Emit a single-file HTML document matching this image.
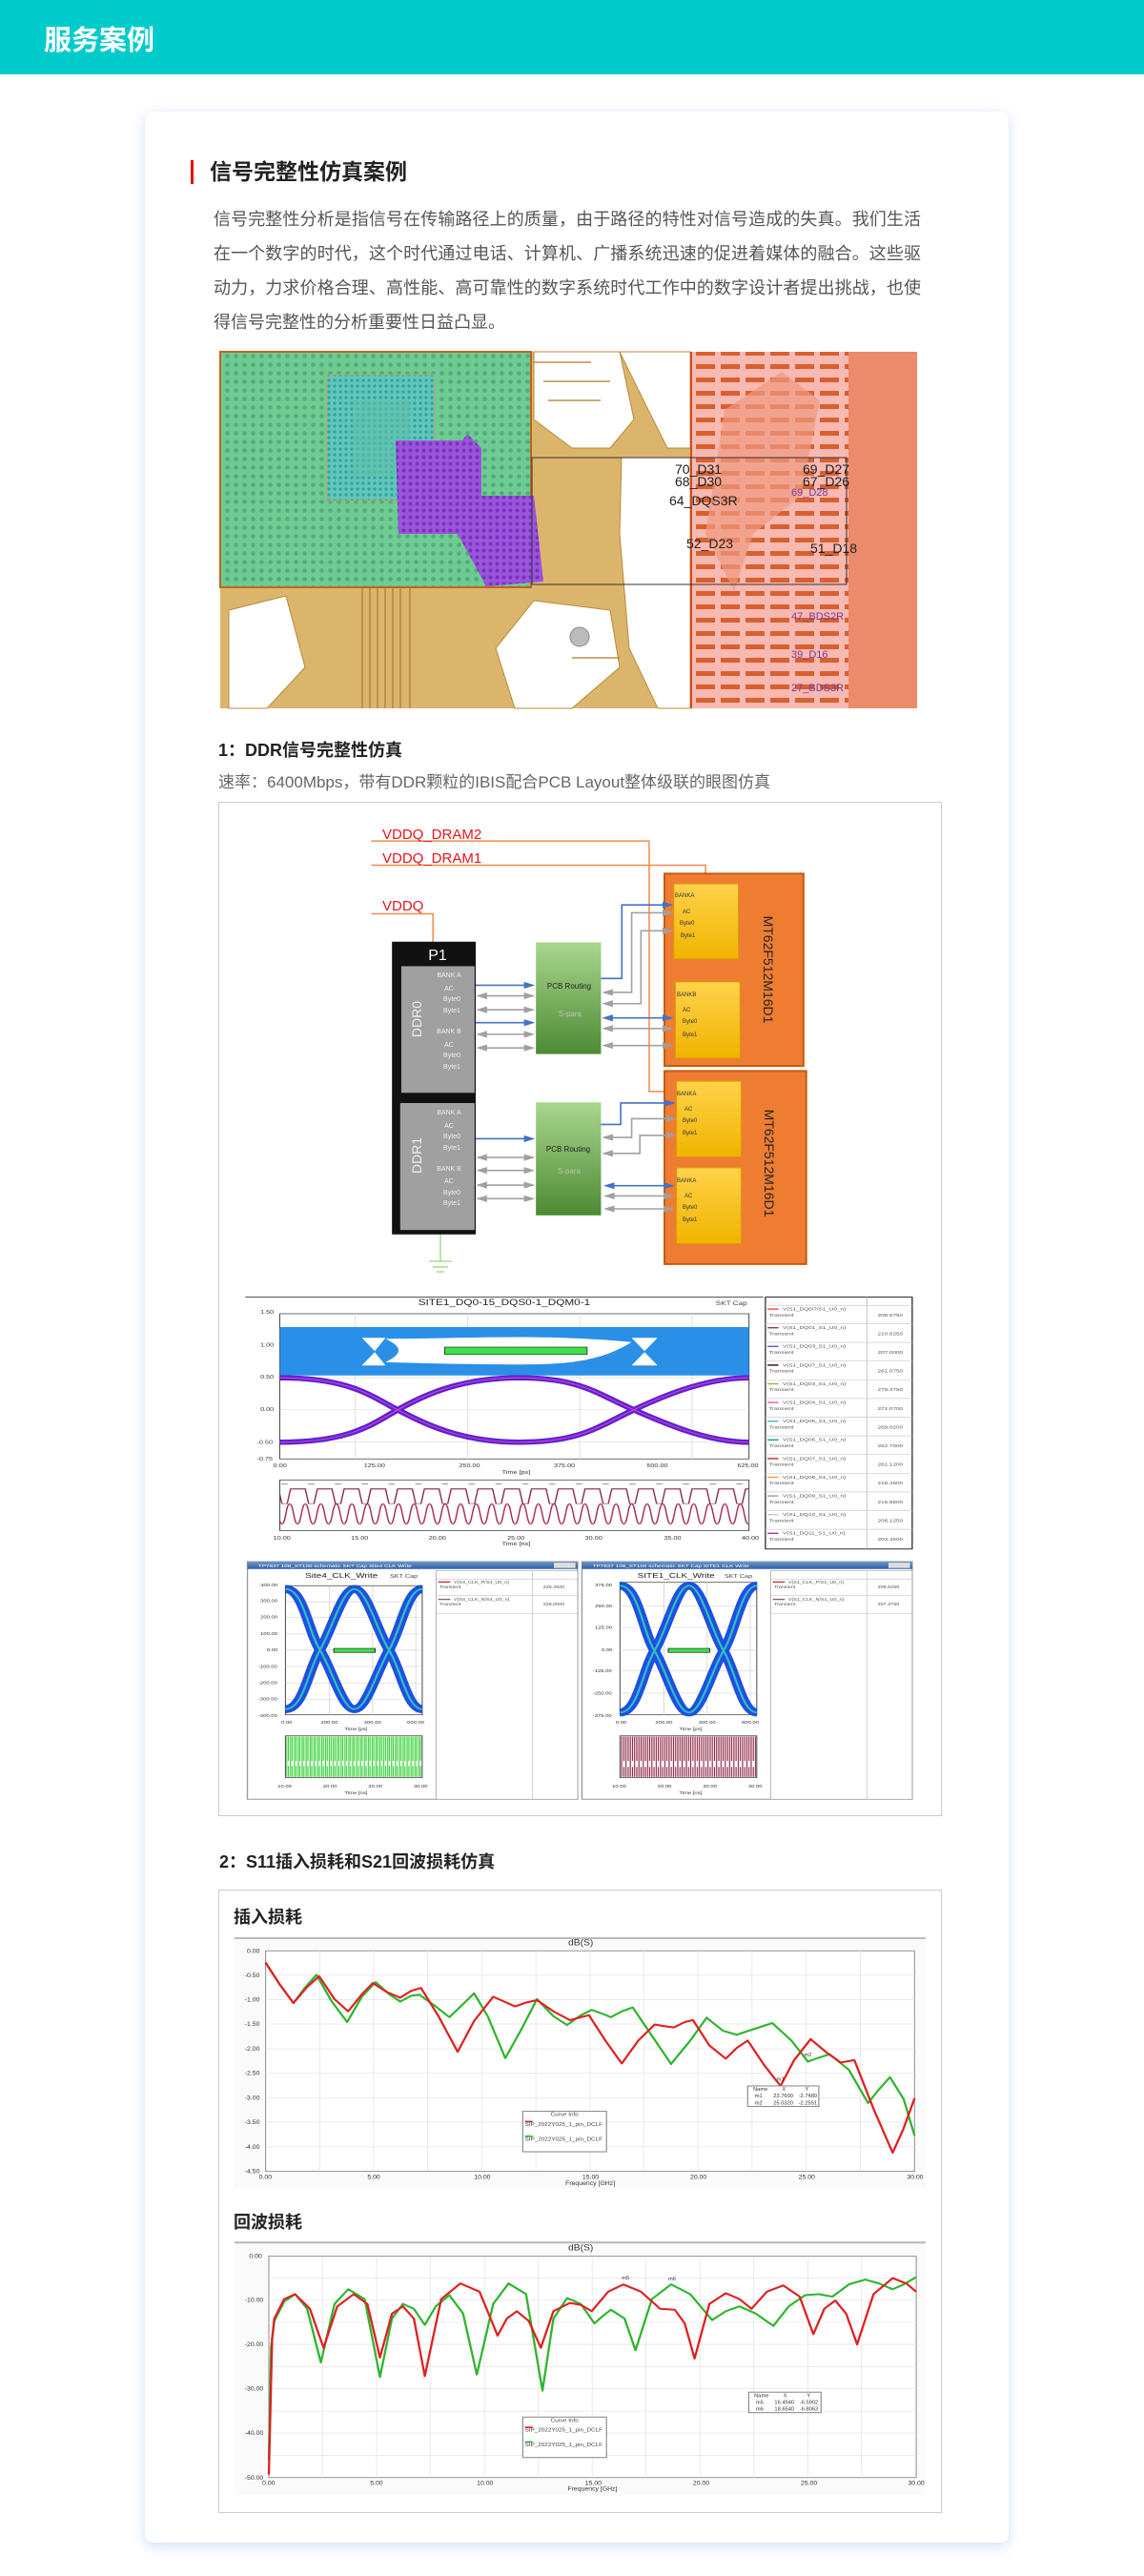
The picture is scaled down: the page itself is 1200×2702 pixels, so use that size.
<!DOCTYPE html>
<html><head><meta charset="utf-8">
<style>
*{margin:0;padding:0;box-sizing:border-box}
html,body{width:1200px;height:2702px;background:#fff;overflow:hidden}
body{position:relative;font-family:"Liberation Sans","Noto Sans CJK SC",sans-serif}
.hdr{position:absolute;left:0;top:0;width:1200px;height:78px;background:#00cbcb}
.hdr span{position:absolute;left:46px;top:19px;font-size:29px;font-weight:bold;color:#fff;letter-spacing:0}
.card{position:absolute;left:152px;top:117px;width:906px;height:2550px;background:#fff;border-radius:8px;box-shadow:0 4px 14px rgba(150,185,240,.45)}
.t{position:absolute;white-space:nowrap;color:#222;z-index:3}
#svg{position:absolute;left:0;top:0;z-index:1}
</style></head><body>
<div class="hdr"><span>服务案例</span></div>
<div class="card"></div>
<div style="position:absolute;left:200px;top:168px;width:3px;height:25px;background:#e60012;z-index:3"></div>
<div class="t" style="left:220px;top:166px;font-size:23px;font-weight:bold;line-height:28px">信号完整性仿真案例</div>
<div style="position:absolute;z-index:3;left:224px;top:212px;width:742px;font-size:18px;line-height:36px;color:#555;letter-spacing:0;text-align:justify">信号完整性分析是指信号在传输路径上的质量，由于路径的特性对信号造成的失真。我们生活在一个数字的时代，这个时代通过电话、计算机、广播系统迅速的促进着媒体的融合。这些驱动力，力求价格合理、高性能、高可靠性的数字系统时代工作中的数字设计者提出挑战，也使得信号完整性的分析重要性日益凸显。</div>
<div class="t" style="left:229px;top:776px;font-size:18px;font-weight:bold;line-height:22px">1：DDR信号完整性仿真</div>
<div class="t" style="left:229px;top:810px;font-size:17px;color:#666;line-height:22px">速率：6400Mbps，带有DDR颗粒的IBIS配合PCB Layout整体级联的眼图仿真</div>
<div class="t" style="left:230px;top:1942px;font-size:18px;font-weight:bold;line-height:22px">2：S11插入损耗和S21回波损耗仿真</div>
<div class="t" style="left:245px;top:2000px;font-size:18px;font-weight:bold;line-height:22px">插入损耗</div>
<div class="t" style="left:245px;top:2320px;font-size:18px;font-weight:bold;line-height:22px">回波损耗</div>

<svg id="svg" width="1200" height="2702" viewBox="0 0 1200 2702" xmlns="http://www.w3.org/2000/svg" font-family="Liberation Sans, sans-serif">
<defs>
<pattern id="dots" width="9" height="9" patternUnits="userSpaceOnUse"><rect width="9" height="9" fill="#6fcb92"/><circle cx="4.5" cy="4.5" r="2.3" fill="#4fae7a"/></pattern>
<pattern id="cdots" width="6" height="6" patternUnits="userSpaceOnUse"><rect width="6" height="6" fill="#62c6b8"/><circle cx="3" cy="3" r="1.6" fill="#2fa0a8"/></pattern>
<pattern id="pdots" width="7" height="7" patternUnits="userSpaceOnUse"><rect width="7" height="7" fill="#9b55d8"/><circle cx="3.5" cy="3.5" r="2" fill="#7a2fc8"/></pattern>
<pattern id="pads" width="26" height="14" patternUnits="userSpaceOnUse"><rect width="26" height="14" fill="#f7b9b2"/><rect x="2" y="4" width="20" height="5" fill="#d9602e"/></pattern>
<linearGradient id="gg" x1="0" y1="0" x2="0" y2="1"><stop offset="0" stop-color="#a9d78e"/><stop offset="1" stop-color="#4d8a34"/></linearGradient>
<linearGradient id="yg" x1="0" y1="0" x2="0" y2="1"><stop offset="0" stop-color="#ffd24a"/><stop offset="1" stop-color="#f0b400"/></linearGradient>
<linearGradient id="tb" x1="0" y1="0" x2="0" y2="1"><stop offset="0" stop-color="#6a98d0"/><stop offset="1" stop-color="#2e5f9e"/></linearGradient>
<pattern id="sinr" width="36" height="80" patternUnits="userSpaceOnUse"><path d="M0,10 C9,10 9,70 18,70 C27,70 27,10 36,10" fill="none" stroke="#a02050" stroke-width="3"/></pattern>
<pattern id="sqr" width="62" height="60" patternUnits="userSpaceOnUse"><path d="M0,5 L20,5 L28,50 L40,50 L48,5 L62,5" fill="none" stroke="#802040" stroke-width="3"/></pattern>
<pattern id="gvl" width="9" height="130" patternUnits="userSpaceOnUse"><path d="M2,0 V130 M6,5 V120" stroke="#2fd02f" stroke-width="2.5"/></pattern>
<pattern id="rvl" width="10" height="130" patternUnits="userSpaceOnUse"><path d="M2,0 V130 M7,8 V120" stroke="#8a2040" stroke-width="2.5"/></pattern>
<marker id="ab" markerWidth="6" markerHeight="6" refX="5" refY="3" orient="auto"><path d="M0,0 L6,3 L0,6z" fill="#4472c4"/></marker>
<marker id="ag" markerWidth="6" markerHeight="6" refX="5" refY="3" orient="auto"><path d="M0,0 L6,3 L0,6z" fill="#a0a0a0"/></marker>
<marker id="abs" markerWidth="6" markerHeight="6" refX="1" refY="3" orient="auto"><path d="M6,0 L0,3 L6,6z" fill="#4472c4"/></marker>
<marker id="ags" markerWidth="6" markerHeight="6" refX="1" refY="3" orient="auto"><path d="M6,0 L0,3 L6,6z" fill="#a0a0a0"/></marker>
</defs>

<!-- PCB image -->
<g>
<rect x="231" y="369" width="731" height="374" fill="#dbb56c"/>
<rect x="231" y="369" width="326" height="247" fill="url(#dots)" stroke="#c0641e" stroke-width="2"/>
<rect x="343" y="393" width="113" height="132" fill="url(#cdots)" stroke="#c8a060" stroke-width="1"/>
<rect x="370" y="420" width="60" height="80" fill="#5fbfa8" opacity=".6"/>
<path d="M415,462 L485,462 L490,455 L505,470 L505,520 L560,520 L570,610 L510,615 L480,560 L418,560z" fill="url(#pdots)"/>
<g fill="#fff" stroke="#b98a3a" stroke-width="1">
<path d="M560,369 L650,369 L665,440 L640,470 L600,470 L560,440z"/>
<path d="M650,369 L724,369 L724,470 L700,470 L680,430z"/>
<path d="M652,480 L724,480 L724,743 L690,743 L660,680 L650,560z"/>
<path d="M560,630 L640,640 L650,700 L600,743 L540,743 L520,680z"/>
<path d="M240,640 L300,625 L320,700 L280,743 L240,743z"/>
</g>
<g stroke="#b07a2a" stroke-width="1.2" fill="none">
<path d="M380,616 V743 M388,616 V743 M396,616 V743 M404,616 V743 M412,616 V743 M420,616 V743 M430,616 V743"/>
<path d="M560,380 H620 M570,400 H640 M575,420 H630 M600,690 H650"/>
</g>
<circle cx="608" cy="668" r="10" fill="#bbb" stroke="#888"/>
<rect x="724" y="369" width="166" height="374" fill="url(#pads)"/>
<path d="M760,430 L820,390 L860,420 L840,520 L790,560 L770,620 L740,560z" fill="#f09a80" opacity=".7"/>
<rect x="890" y="369" width="72" height="374" fill="#ec8a6c"/>
<rect x="724" y="369" width="2" height="374" fill="#c85020"/>
<rect x="558" y="480" width="330" height="133" fill="none" stroke="#333" stroke-width="1"/>
<g font-size="14" fill="#222"><text x="708" y="497">70_D31</text><text x="708" y="510">68_D30</text><text x="702" y="530">64_DQS3R</text><text x="720" y="575">52_D23</text><text x="842" y="497">69_D27</text><text x="842" y="510">67_D26</text><text x="850" y="580">51_D18</text></g>
<g font-size="11" fill="#7a3aa0"><text x="830" y="520">69_D28</text><text x="830" y="650">47_BDS2R</text><text x="830" y="690">39_D16</text><text x="830" y="725">27_BDS3R</text></g>
</g>

<!-- DDR diagram box -->
<rect x="229.5" y="841.5" width="758" height="1063" fill="#fff" stroke="#ccc"/>
<g transform="translate(150,760) scale(0.574,0.357)">
<g fill="none" stroke="#f08a4a" stroke-width="1.5">
<polyline points="417,342 925,342 925,1078 975,1078" vector-effect="non-scaling-stroke"/>
<polyline points="417,413 1028,413 1028,440" vector-effect="non-scaling-stroke"/>
<polyline points="417,556 530,556 530,640" vector-effect="non-scaling-stroke"/>
</g>
<rect x="455" y="638" width="153" height="860" fill="#111"/>
<rect x="472" y="710" width="134" height="372" fill="#a0a0a0"/>
<rect x="470" y="1112" width="136" height="373" fill="#a0a0a0"/>
<rect x="718" y="640" width="119" height="328" fill="url(#gg)"/>
<rect x="718" y="1110" width="119" height="332" fill="url(#gg)"/>
<rect x="953" y="438" width="254" height="565" fill="#ee7d31" stroke="#c55a11" stroke-width="2" vector-effect="non-scaling-stroke"/>
<rect x="953" y="1018" width="259" height="567" fill="#ee7d31" stroke="#c55a11" stroke-width="2" vector-effect="non-scaling-stroke"/>
<rect x="970" y="468" width="118" height="220" fill="url(#yg)" stroke="#d9a000" vector-effect="non-scaling-stroke"/>
<rect x="973" y="756" width="118" height="224" fill="url(#yg)" stroke="#d9a000" vector-effect="non-scaling-stroke"/>
<rect x="975" y="1048" width="118" height="222" fill="url(#yg)" stroke="#d9a000" vector-effect="non-scaling-stroke"/>
<rect x="975" y="1302" width="118" height="223" fill="url(#yg)" stroke="#d9a000" vector-effect="non-scaling-stroke"/>
<g stroke-width="1.6" fill="none">
<line x1="608" y1="766" x2="713" y2="766" stroke="#4472c4" marker-end="url(#ab)" vector-effect="non-scaling-stroke"/>
<line x1="612" y1="797" x2="713" y2="797" stroke="#a0a0a0" marker-end="url(#ag)" marker-start="url(#ags)" vector-effect="non-scaling-stroke"/>
<line x1="612" y1="838" x2="713" y2="838" stroke="#a0a0a0" marker-end="url(#ag)" marker-start="url(#ags)" vector-effect="non-scaling-stroke"/>
<line x1="608" y1="876" x2="713" y2="876" stroke="#4472c4" marker-end="url(#ab)" vector-effect="non-scaling-stroke"/>
<line x1="612" y1="910" x2="713" y2="910" stroke="#a0a0a0" marker-end="url(#ag)" marker-start="url(#ags)" vector-effect="non-scaling-stroke"/>
<line x1="612" y1="950" x2="713" y2="950" stroke="#a0a0a0" marker-end="url(#ag)" marker-start="url(#ags)" vector-effect="non-scaling-stroke"/>
<line x1="608" y1="1217" x2="713" y2="1217" stroke="#4472c4" marker-end="url(#ab)" vector-effect="non-scaling-stroke"/>
<line x1="612" y1="1272" x2="713" y2="1272" stroke="#a0a0a0" marker-end="url(#ag)" marker-start="url(#ags)" vector-effect="non-scaling-stroke"/>
<line x1="612" y1="1310" x2="713" y2="1310" stroke="#a0a0a0" marker-end="url(#ag)" marker-start="url(#ags)" vector-effect="non-scaling-stroke"/>
<line x1="612" y1="1353" x2="713" y2="1353" stroke="#a0a0a0" marker-end="url(#ag)" marker-start="url(#ags)" vector-effect="non-scaling-stroke"/>
<line x1="612" y1="1393" x2="713" y2="1393" stroke="#a0a0a0" marker-end="url(#ag)" marker-start="url(#ags)" vector-effect="non-scaling-stroke"/>
<polyline points="837,746 875,746 875,530 966,530" stroke="#4472c4" marker-end="url(#ab)" vector-effect="non-scaling-stroke"/>
<polyline points="842,787 893,787 893,553 966,553" stroke="#a0a0a0" marker-end="url(#ag)" marker-start="url(#ags)" vector-effect="non-scaling-stroke"/>
<polyline points="842,820 910,820 910,606 966,606" stroke="#a0a0a0" marker-end="url(#ag)" marker-start="url(#ags)" vector-effect="non-scaling-stroke"/>
<line x1="842" y1="862" x2="966" y2="862" stroke="#4472c4" marker-end="url(#ab)" marker-start="url(#abs)" vector-effect="non-scaling-stroke"/>
<line x1="842" y1="893" x2="966" y2="893" stroke="#a0a0a0" marker-end="url(#ag)" marker-start="url(#ags)" vector-effect="non-scaling-stroke"/>
<line x1="842" y1="943" x2="966" y2="943" stroke="#a0a0a0" marker-end="url(#ag)" marker-start="url(#ags)" vector-effect="non-scaling-stroke"/>
<polyline points="837,1175 873,1175 873,1112 970,1112" stroke="#4472c4" marker-end="url(#ab)" vector-effect="non-scaling-stroke"/>
<polyline points="842,1213 893,1213 893,1158 972,1158" stroke="#a0a0a0" marker-end="url(#ag)" marker-start="url(#ags)" vector-effect="non-scaling-stroke"/>
<polyline points="842,1260 908,1260 908,1207 972,1207" stroke="#a0a0a0" marker-end="url(#ag)" marker-start="url(#ags)" vector-effect="non-scaling-stroke"/>
<line x1="845" y1="1355" x2="968" y2="1355" stroke="#4472c4" marker-end="url(#ab)" marker-start="url(#abs)" vector-effect="non-scaling-stroke"/>
<line x1="845" y1="1385" x2="968" y2="1385" stroke="#a0a0a0" marker-end="url(#ag)" marker-start="url(#ags)" vector-effect="non-scaling-stroke"/>
<line x1="845" y1="1423" x2="968" y2="1423" stroke="#a0a0a0" marker-end="url(#ag)" marker-start="url(#ags)" vector-effect="non-scaling-stroke"/>
</g>
</g>
<g stroke="#9bd37a" stroke-width="1.3"><line x1="462" y1="1295" x2="462" y2="1323"/><line x1="450" y1="1323" x2="474" y2="1323"/><line x1="454" y1="1329" x2="470" y2="1329"/><line x1="458" y1="1334" x2="466" y2="1334"/></g>
<g font-size="15" fill="#e8141c"><text x="401" y="880">VDDQ_DRAM2</text><text x="401" y="905">VDDQ_DRAM1</text><text x="401" y="955">VDDQ</text></g>
<text x="459" y="1007" font-size="16" fill="#fff" text-anchor="middle">P1</text>
<text transform="translate(442,1069) rotate(-90)" font-size="14" fill="#eee" text-anchor="middle">DDR0</text>
<text transform="translate(442,1212) rotate(-90)" font-size="14" fill="#eee" text-anchor="middle">DDR1</text>
<g font-size="7" fill="#eee" text-anchor="middle">
<text x="471" y="1025">BANK A</text><text x="471" y="1039">AC</text><text x="474" y="1050">Byte0</text><text x="474" y="1062">Byte1</text>
<text x="471" y="1084">BANK B</text><text x="471" y="1098">AC</text><text x="474" y="1109">Byte0</text><text x="474" y="1121">Byte1</text>
<text x="471" y="1169">BANK A</text><text x="471" y="1183">AC</text><text x="474" y="1194">Byte0</text><text x="474" y="1206">Byte1</text>
<text x="471" y="1228">BANK B</text><text x="471" y="1241">AC</text><text x="474" y="1253">Byte0</text><text x="474" y="1264">Byte1</text>
</g>
<g font-size="8" text-anchor="middle"><text x="597" y="1037" fill="#222">PCB Routing</text><text x="598" y="1066" fill="#b8c8b0">S-para</text><text x="596" y="1208" fill="#222">PCB Routing</text><text x="597" y="1231" fill="#b8c8b0">S-para</text></g>
<g font-size="6" fill="#333">
<text x="708" y="941">BANKA</text><text x="716" y="958">AC</text><text x="713" y="970">Byte0</text><text x="714" y="983">Byte1</text>
<text x="710" y="1045">BANKB</text><text x="716" y="1061">AC</text><text x="716" y="1073">Byte0</text><text x="716" y="1087">Byte1</text>
<text x="710" y="1149">BANKA</text><text x="718" y="1165">AC</text><text x="716" y="1177">Byte0</text><text x="716" y="1190">Byte1</text>
<text x="710" y="1240">BANKA</text><text x="718" y="1256">AC</text><text x="716" y="1268">Byte0</text><text x="716" y="1281">Byte1</text>
</g>
<text transform="translate(801,1017) rotate(90)" font-size="14" fill="#222" text-anchor="middle">MT62F512M16D1</text>
<text transform="translate(802,1220) rotate(90)" font-size="14" fill="#222" text-anchor="middle">MT62F512M16D1</text>

<!-- Eye diagrams -->
<g transform="translate(255,1350) scale(0.4528,0.35)">
<line x1="5" y1="30" x2="1205" y2="30" stroke="#555" stroke-width="3"/>
<rect x="85" y="80" width="1087" height="435" fill="#fff" stroke="#333" stroke-width="2"/>
<g stroke="#ddd" stroke-width="2"><path d="M85,175 H1172 M85,272 H1172 M85,368 H1172 M85,465 H1172 M260,80 V515 M520,80 V515 M780,80 V515 M1040,80 V515"/></g>
<rect x="85" y="120" width="1087" height="145" fill="#2a8fe6"/>
<path d="M330,155 C450,155 540,150 635,150 C730,150 820,155 900,165 C820,230 730,232 635,232 C540,232 450,230 330,225 C370,200 370,180 330,155z" fill="#fff"/>
<path d="M275,152 L330,152 L305,192z M275,235 L330,235 L305,195z M900,152 L960,152 L930,192z M900,235 L960,235 L930,195z" fill="#fff"/>
<rect x="467" y="180" width="330" height="22" fill="#3ee04a" stroke="#333" stroke-width="2"/>
<path d="M85,272 C250,272 300,330 358,368 S500,465 640,465 S820,420 905,368 S1080,272 1172,272" fill="none" stroke="#5a22d8" stroke-width="16"/>
<path d="M85,465 C250,465 300,410 358,368 S500,272 640,272 S820,320 905,368 S1080,465 1172,465" fill="none" stroke="#5a22d8" stroke-width="16"/>
<path d="M85,272 C250,272 300,330 358,368 S500,465 640,465 S820,420 905,368 S1080,272 1172,272 M85,465 C250,465 300,410 358,368 S500,272 640,272 S820,320 905,368 S1080,465 1172,465" fill="none" stroke="#e040c0" stroke-width="3"/>
<text x="605" y="55" font-size="26" text-anchor="middle" fill="#222">SITE1_DQ0-15_DQS0-1_DQM0-1</text>
<text x="1095" y="55" font-size="18" fill="#444">SKT Cap</text>
<rect x="85" y="578" width="1087" height="152" fill="#fff" stroke="#333" stroke-width="2"/>
<rect x="86" y="590" width="1085" height="60" fill="url(#sqr)"/>
<rect x="86" y="645" width="1085" height="80" fill="url(#sinr)"/>
<g font-size="16" fill="#333"><text x="70" y="540">0.00</text><text x="280" y="540">125.00</text><text x="500" y="540">250.00</text><text x="720" y="540">375.00</text><text x="935" y="540">500.00</text><text x="1145" y="540">625.00</text><text x="600" y="560">Time [ps]</text>
<text x="70" y="757">10.00</text><text x="250" y="757">15.00</text><text x="430" y="757">20.00</text><text x="612" y="757">25.00</text><text x="792" y="757">30.00</text><text x="975" y="757">35.00</text><text x="1155" y="757">40.00</text><text x="600" y="775">Time [ns]</text>
<text x="40" y="80">1.50</text><text x="40" y="178">1.00</text><text x="40" y="275">0.50</text><text x="40" y="372">0.00</text><text x="32" y="470">-0.50</text><text x="32" y="520">-0.75</text></g>
<rect x="1210" y="30" width="340" height="755" fill="#fff" stroke="#333" stroke-width="3"/>
<line x1="1445" y1="30" x2="1445" y2="785" stroke="#bbb" stroke-width="2"/>
<g stroke="#ccc" stroke-width="2"><path d="M1210,55H1550 M1210,110H1550 M1210,166H1550 M1210,222H1550 M1210,278H1550 M1210,334H1550 M1210,390H1550 M1210,446H1550 M1210,502H1550 M1210,558H1550 M1210,614H1550 M1210,670H1550 M1210,726H1550"/></g>
<g stroke-width="4"><path d="M1215,66h25" stroke="#f44"/><path d="M1215,122h25" stroke="#844"/><path d="M1215,178h25" stroke="#55e"/><path d="M1215,234h25" stroke="#302"/><path d="M1215,290h25" stroke="#aa4"/><path d="M1215,346h25" stroke="#e5a"/><path d="M1215,402h25" stroke="#3bb"/><path d="M1215,458h25" stroke="#199"/><path d="M1215,514h25" stroke="#c22"/><path d="M1215,570h25" stroke="#f93"/><path d="M1215,626h25" stroke="#999"/><path d="M1215,682h25" stroke="#ccc"/><path d="M1215,738h25" stroke="#a3a"/></g>
<g font-size="14" fill="#555"><text x="1250" y="70">V(S1_DQ0/7/S1_U0_n)</text><text x="1218" y="88">Transient</text><text x="1470" y="88">208.6750</text>
<text x="1250" y="126">V(S1_DQ01_S1_U0_n)</text><text x="1218" y="144">Transient</text><text x="1470" y="144">210.6250</text>
<text x="1250" y="182">V(S1_DQ03_S1_U0_n)</text><text x="1218" y="200">Transient</text><text x="1470" y="200">207.0000</text>
<text x="1250" y="238">V(S1_DQ07_S1_U0_n)</text><text x="1218" y="256">Transient</text><text x="1470" y="256">261.0750</text>
<text x="1250" y="294">V(S1_DQ03_S1_U0_n)</text><text x="1218" y="312">Transient</text><text x="1470" y="312">279.3750</text>
<text x="1250" y="350">V(S1_DQ04_S1_U0_n)</text><text x="1218" y="368">Transient</text><text x="1470" y="368">271.0700</text>
<text x="1250" y="406">V(S1_DQ05_S1_U0_n)</text><text x="1218" y="424">Transient</text><text x="1470" y="424">269.0200</text>
<text x="1250" y="462">V(S1_DQ06_S1_U0_n)</text><text x="1218" y="480">Transient</text><text x="1470" y="480">262.7000</text>
<text x="1250" y="518">V(S1_DQ07_S1_U0_n)</text><text x="1218" y="536">Transient</text><text x="1470" y="536">261.1200</text>
<text x="1250" y="574">V(S1_DQ08_S1_U0_n)</text><text x="1218" y="592">Transient</text><text x="1470" y="592">218.4500</text>
<text x="1250" y="630">V(S1_DQ09_S1_U0_n)</text><text x="1218" y="648">Transient</text><text x="1470" y="648">216.8500</text>
<text x="1250" y="686">V(S1_DQ10_S1_U0_n)</text><text x="1218" y="704">Transient</text><text x="1470" y="704">206.1250</text>
<text x="1250" y="742">V(S1_DQ11_S1_U0_n)</text><text x="1218" y="760">Transient</text><text x="1470" y="760">203.4500</text></g>

<g>
<rect x="10" y="823" width="765" height="712" fill="#fff" stroke="#999" stroke-width="3"/>
<rect x="10" y="823" width="765" height="22" fill="url(#tb)"/>
<text x="35" y="840" font-size="14" fill="#fff">TP7837 108_ST100 schematic  SKT Cap  Site4 CLK Write</text>
<rect x="720" y="826" width="50" height="16" fill="#ddd"/>
<rect x="98" y="895" width="317" height="387" fill="#fff" stroke="#333" stroke-width="2"/>
<g stroke="#ccc" stroke-width="1.5"><path d="M98,943H415 M98,990H415 M98,1040H415 M98,1088H415 M98,1137H415 M98,1187H415 M98,1236H415 M200,895V1282 M300,895V1282 M400,895V1282"/></g>
<path d="M98,905 C140,905 150,1030 178,1088 S230,1265 258,1265 S310,1150 338,1088 S380,905 415,905" fill="none" stroke="#1e50e0" stroke-width="24"/>
<path d="M98,1265 C140,1265 150,1150 178,1088 S230,905 258,905 S310,1030 338,1088 S380,1265 415,1265" fill="none" stroke="#1e50e0" stroke-width="24"/>
<path d="M98,905 C140,905 150,1030 178,1088 S230,1265 258,1265 S310,1150 338,1088 S380,905 415,905 M98,1265 C140,1265 150,1150 178,1088 S230,905 258,905 S310,1030 338,1088 S380,1265 415,1265" fill="none" stroke="#30c0c0" stroke-width="5"/>
<rect x="210" y="1083" width="96" height="12" fill="#3ee04a" stroke="#222" stroke-width="2"/>
<text x="228" y="872" font-size="22" text-anchor="middle" fill="#222">Site4_CLK_Write</text>
<text x="340" y="872" font-size="16" fill="#444">SKT Cap</text>
<rect x="98" y="1345" width="317" height="125" fill="#fff" stroke="#333" stroke-width="2"/>
<rect x="100" y="1347" width="313" height="121" fill="url(#gvl)"/>
<g font-size="13" fill="#333"><text x="40" y="897">400.00</text><text x="40" y="945">300.00</text><text x="40" y="993">200.00</text><text x="40" y="1043">100.00</text><text x="55" y="1092">0.00</text><text x="35" y="1141">-100.00</text><text x="35" y="1190">-200.00</text><text x="35" y="1239">-300.00</text><text x="35" y="1288">-400.00</text>
<text x="88" y="1308">0.00</text><text x="180" y="1308">200.00</text><text x="280" y="1308">400.00</text><text x="380" y="1308">600.00</text><text x="235" y="1328">Time [ps]</text>
<text x="80" y="1500">10.00</text><text x="185" y="1500">20.00</text><text x="290" y="1500">30.00</text><text x="395" y="1500">40.00</text><text x="235" y="1520">Time [ns]</text></g>
<rect x="447" y="850" width="328" height="685" fill="#fff" stroke="#aaa" stroke-width="2"/>
<g stroke="#ccc" stroke-width="2"><path d="M670,850V1535 M447,875H775 M447,925H775 M447,978H775"/></g>
<path d="M452,884h28" stroke="#c33" stroke-width="4"/><path d="M452,936h28" stroke="#866" stroke-width="4"/>
<g font-size="12" fill="#555"><text x="488" y="888">V(S4_CLK_P/S4_U0_n)</text><text x="455" y="903">Transient</text><text x="695" y="903">225.2500</text><text x="488" y="940">V(S4_CLK_N/S4_U0_n)</text><text x="455" y="955">Transient</text><text x="695" y="955">226.0000</text></g>
</g>
<g transform="translate(775,0)">
<rect x="10" y="823" width="765" height="712" fill="#fff" stroke="#999" stroke-width="3"/>
<rect x="10" y="823" width="765" height="22" fill="url(#tb)"/>
<text x="35" y="840" font-size="14" fill="#fff">TP7837 108_ST100 schematic  SKT Cap  SITE1 CLK Write</text>
<rect x="720" y="826" width="50" height="16" fill="#ddd"/>
<rect x="98" y="885" width="317" height="397" fill="#fff" stroke="#333" stroke-width="2"/>
<g stroke="#ccc" stroke-width="1.5"><path d="M98,955H415 M98,1020H415 M98,1088H415 M98,1150H415 M98,1217H415 M200,885V1282 M300,885V1282 M400,885V1282"/></g>
<path d="M98,895 C140,895 150,1030 178,1090 S230,1275 258,1275 S310,1150 338,1090 S380,895 415,895" fill="none" stroke="#1e50e0" stroke-width="24"/>
<path d="M98,1275 C140,1275 150,1150 178,1090 S230,895 258,895 S310,1030 338,1090 S380,1275 415,1275" fill="none" stroke="#1e50e0" stroke-width="24"/>
<path d="M98,895 C140,895 150,1030 178,1090 S230,1275 258,1275 S310,1150 338,1090 S380,895 415,895 M98,1275 C140,1275 150,1150 178,1090 S230,895 258,895 S310,1030 338,1090 S380,1275 415,1275" fill="none" stroke="#30c0c0" stroke-width="5"/>
<rect x="210" y="1083" width="96" height="12" fill="#3ee04a" stroke="#222" stroke-width="2"/>
<text x="228" y="872" font-size="22" text-anchor="middle" fill="#222">SITE1_CLK_Write</text>
<text x="340" y="872" font-size="16" fill="#444">SKT Cap</text>
<rect x="98" y="1345" width="317" height="125" fill="#fff" stroke="#333" stroke-width="2"/>
<rect x="100" y="1347" width="313" height="121" fill="url(#rvl)"/>
<g font-size="13" fill="#333"><text x="40" y="897">375.00</text><text x="40" y="960">250.00</text><text x="40" y="1025">125.00</text><text x="55" y="1092">0.00</text><text x="35" y="1155">-125.00</text><text x="35" y="1222">-250.00</text><text x="35" y="1288">-375.00</text>
<text x="88" y="1308">0.00</text><text x="180" y="1308">200.00</text><text x="280" y="1308">400.00</text><text x="380" y="1308">600.00</text><text x="235" y="1328">Time [ps]</text>
<text x="80" y="1500">10.00</text><text x="185" y="1500">20.00</text><text x="290" y="1500">30.00</text><text x="395" y="1500">40.00</text><text x="235" y="1520">Time [ns]</text></g>
<rect x="447" y="850" width="328" height="685" fill="#fff" stroke="#aaa" stroke-width="2"/>
<g stroke="#ccc" stroke-width="2"><path d="M670,850V1535 M447,875H775 M447,925H775 M447,978H775"/></g>
<path d="M452,884h28" stroke="#c33" stroke-width="4"/><path d="M452,936h28" stroke="#866" stroke-width="4"/>
<g font-size="12" fill="#555"><text x="488" y="888">V(S1_CLK_P/S1_U0_n)</text><text x="455" y="903">Transient</text><text x="695" y="903">209.6250</text><text x="488" y="940">V(S1_CLK_N/S1_U0_n)</text><text x="455" y="955">Transient</text><text x="695" y="955">207.3750</text></g>
</g>
</g>

<!-- Section 2 box -->
<rect x="229.5" y="1982.5" width="758" height="653" fill="#fff" stroke="#ccc"/>
<g transform="translate(150,1900) scale(0.574,0.5115)">
<rect x="167" y="258" width="1263" height="514" fill="#fafafa"/>
<line x1="167" y1="260" x2="1430" y2="260" stroke="#bbb" stroke-width="4"/>
<rect x="224" y="286" width="1186" height="452" fill="#fff" stroke="#999" stroke-width="2"/>
<g stroke="#e6e6e6" stroke-width="1.5"><path d="M224,336H1410 M224,386H1410 M224,436H1410 M224,487H1410 M224,537H1410 M224,587H1410 M224,637H1410 M224,688H1410 M323,286V738 M421,286V738 M520,286V738 M619,286V738 M718,286V738 M817,286V738 M915,286V738 M1014,286V738 M1113,286V738 M1212,286V738 M1311,286V738"/></g>
<polyline fill="none" stroke="#2db52d" stroke-width="4" stroke-linejoin="round" points="224,310 250,355 275,393 297,360 317,335 345,390 373,432 400,380 425,350 450,375 470,390 490,378 505,376 535,400 560,422 585,395 605,373 630,420 662,506 690,450 720,385 750,420 775,438 800,418 820,407 840,415 855,422 875,410 895,402 930,460 965,518 1000,470 1030,423 1060,450 1085,458 1120,445 1150,434 1185,470 1215,513 1235,505 1255,498 1290,530 1325,598 1345,570 1365,545 1390,590 1410,665"/>
<polyline fill="none" stroke="#e02020" stroke-width="4" stroke-linejoin="round" points="224,310 250,355 275,393 300,360 322,338 350,385 375,410 400,375 420,352 445,370 470,382 490,368 508,362 540,420 575,493 605,430 640,380 660,390 680,400 700,392 720,387 750,410 780,428 800,422 815,418 845,470 875,517 905,470 935,437 950,440 970,443 990,432 1005,428 1035,480 1065,507 1085,485 1105,470 1135,520 1165,563 1190,510 1220,467 1250,495 1275,515 1300,510 1335,610 1370,700 1390,650 1410,588"/>
<text x="800" y="275" font-size="18" text-anchor="middle" fill="#333">dB(S)</text>
<g font-size="12" fill="#333"><text x="190" y="290">0.00</text><text x="186" y="340">-0.50</text><text x="186" y="390">-1.00</text><text x="186" y="440">-1.50</text><text x="186" y="491">-2.00</text><text x="186" y="541">-2.50</text><text x="186" y="591">-3.00</text><text x="186" y="641">-3.50</text><text x="186" y="692">-4.00</text><text x="186" y="742">-4.50</text>
<text x="212" y="754">0.00</text><text x="410" y="754">5.00</text><text x="605" y="754">10.00</text><text x="803" y="754">15.00</text><text x="1000" y="754">20.00</text><text x="1198" y="754">25.00</text><text x="1396" y="754">30.00</text><text x="772" y="766">Frequency [GHz]</text></g>
<rect x="1105" y="563" width="130" height="42" fill="#fff" stroke="#888" stroke-width="2"/>
<g font-size="10" fill="#333"><text x="1115" y="573">Name</text><text x="1168" y="573">X</text><text x="1210" y="573">Y</text><text x="1118" y="587">m1</text><text x="1152" y="587">23.7600</text><text x="1198" y="587">-2.7489</text><text x="1118" y="601">m2</text><text x="1152" y="601">25.0320</text><text x="1198" y="601">-2.2551</text><text x="1158" y="552">m1</text><text x="1208" y="502">m2</text></g>
<rect x="694" y="615" width="153" height="83" fill="#fff" stroke="#888" stroke-width="2"/>
<g font-size="11" fill="#444"><text x="745" y="625">Curve Info</text><text x="698" y="645">SIP_2022Y025_1_pin_DCLF</text><text x="698" y="675">SIP_2022Y025_1_pin_DCLF</text></g>
<path d="M698,636h14" stroke="#e02020" stroke-width="3"/><path d="M698,666h14" stroke="#2db52d" stroke-width="3"/>
<rect x="167" y="882" width="1263" height="520" fill="#fafafa"/>
<line x1="167" y1="884" x2="1430" y2="884" stroke="#bbb" stroke-width="4"/>
<rect x="230" y="912" width="1183" height="454" fill="#fff" stroke="#999" stroke-width="2"/>
<g stroke="#e6e6e6" stroke-width="1.5"><path d="M230,957H1413 M230,1002H1413 M230,1048H1413 M230,1093H1413 M230,1139H1413 M230,1184H1413 M230,1230H1413 M230,1275H1413 M230,1321H1413 M328,912V1366 M427,912V1366 M525,912V1366 M624,912V1366 M722,912V1366 M821,912V1366 M919,912V1366 M1018,912V1366 M1116,912V1366 M1215,912V1366 M1313,912V1366"/></g>
<polyline fill="none" stroke="#2db52d" stroke-width="4" stroke-linejoin="round" points="230,1330 234,1100 240,1045 258,1005 278,990 300,1020 325,1130 350,1010 375,980 405,1000 433,1160 455,1040 475,1010 495,1020 515,1053 535,1015 560,992 585,1030 610,1155 640,1010 668,968 700,990 730,1188 750,1040 775,998 800,1010 825,1050 840,1035 855,1022 880,1040 900,1105 930,1000 965,970 1000,990 1040,1043 1065,1025 1090,1015 1120,1030 1152,1055 1180,1015 1210,992 1235,990 1260,995 1290,970 1320,960 1345,968 1370,980 1390,970 1413,955"/>
<polyline fill="none" stroke="#e02020" stroke-width="4" stroke-linejoin="round" points="230,1360 236,1080 240,1040 258,1000 278,990 305,1020 330,1100 355,1015 385,990 410,1010 433,1120 455,1030 475,1015 495,1040 515,1158 545,1000 580,968 615,985 648,1075 665,1040 683,1025 705,1045 727,1100 750,1025 780,1008 800,1012 820,1025 850,985 878,970 910,985 945,1020 972,1022 990,1050 1008,1122 1035,1010 1065,988 1090,1000 1112,1020 1140,985 1170,972 1200,995 1225,1072 1245,1020 1265,1003 1285,1030 1305,1093 1335,990 1370,957 1395,968 1413,985"/>
<text x="800" y="900" font-size="18" text-anchor="middle" fill="#333">dB(S)</text>
<g font-size="12" fill="#333"><text x="194" y="916">0.00</text><text x="186" y="1006">-10.00</text><text x="186" y="1097">-20.00</text><text x="186" y="1188">-30.00</text><text x="186" y="1279">-40.00</text><text x="186" y="1370">-50.00</text>
<text x="218" y="1381">0.00</text><text x="415" y="1381">5.00</text><text x="610" y="1381">10.00</text><text x="808" y="1381">15.00</text><text x="1005" y="1381">20.00</text><text x="1202" y="1381">25.00</text><text x="1398" y="1381">30.00</text><text x="776" y="1393">Frequency [GHz]</text></g>
<rect x="1107" y="1191" width="132" height="42" fill="#fff" stroke="#888" stroke-width="2"/>
<g font-size="10" fill="#333"><text x="1117" y="1201">Name</text><text x="1170" y="1201">X</text><text x="1213" y="1201">Y</text><text x="1120" y="1215">m5</text><text x="1154" y="1215">16.4940</text><text x="1200" y="1215">-6.5902</text><text x="1120" y="1229">m6</text><text x="1154" y="1229">18.6540</text><text x="1200" y="1229">-6.8063</text><text x="875" y="960">m5</text><text x="960" y="962">m6</text></g>
<rect x="694" y="1242" width="153" height="83" fill="#fff" stroke="#888" stroke-width="2"/>
<g font-size="11" fill="#444"><text x="745" y="1252">Curve Info</text><text x="698" y="1272">SIP_2022Y025_1_pin_DCLF</text><text x="698" y="1302">SIP_2022Y025_1_pin_DCLF</text></g>
<path d="M698,1263h14" stroke="#e02020" stroke-width="3"/><path d="M698,1293h14" stroke="#2db52d" stroke-width="3"/>
</g>
</svg>
</body></html>
